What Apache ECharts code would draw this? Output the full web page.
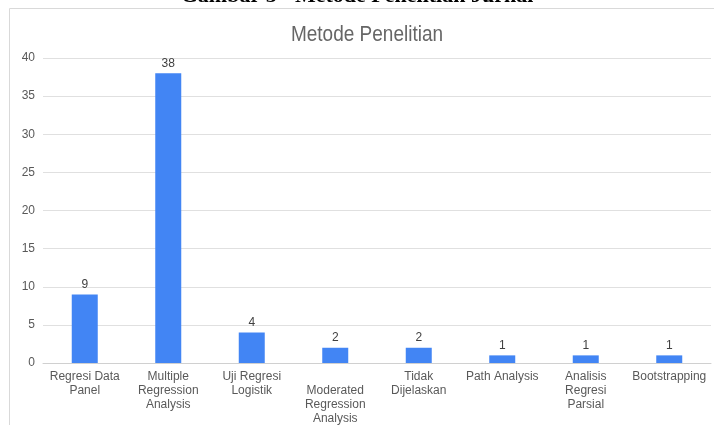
<!DOCTYPE html>
<html>
<head>
<meta charset="utf-8">
<script src="https://cdn.jsdelivr.net/npm/echarts@6/dist/echarts.min.js"></script>
<style>
html,body{margin:0;padding:0;background:#fff;}
#c{width:714px;height:425px;}
</style>
</head>
<body>
<div id="c"></div>
<script>
const categories = [
  "Regresi Data\nPanel",
  "Multiple\nRegression\nAnalysis",
  "Uji Regresi\nLogistik",
  "\nModerated\nRegression\nAnalysis",
  "Tidak\nDijelaskan",
  "Path Analysis",
  "Analisis\nRegresi\nParsial",
  "Bootstrapping"
];
const values = [9, 38, 4, 2, 2, 1, 1, 1];
const yTicks = [0, 5, 10, 15, 20, 25, 30, 35, 40];

const FONT = 'Liberation Sans, Arial, sans-serif';
const chart = echarts.init(document.getElementById('c'));
chart.setOption({
  animation: false,
  graphic: [
    {
      type: 'rect',
      shape: { x: 9.5, y: 8.5, width: 720, height: 440 },
      style: { fill: 'none', stroke: '#d9d9d9', lineWidth: 1 },
      z: -1
    },
    {
      type: 'text',
      x: 357,
      y: 7,
      style: {
        text: 'Gambar 5 - Metode Penelitian Jurnal',
        font: 'bold 22px "Liberation Serif", "Times New Roman", serif',
        fill: '#000',
        align: 'center',
        verticalAlign: 'bottom'
      }
    },
    {
      type: 'text',
      x: 367,
      y: 35,
      scaleY: 1.12,
      style: {
        text: 'Metode Penelitian',
        font: '19px ' + FONT,
        fill: '#666666',
        align: 'center',
        verticalAlign: 'middle'
      }
    }
  ],
  grid: { left: 43, right: 3, top: 58, bottom: 62, outerBoundsMode: 'none', containLabel: false },
  xAxis: {
    type: 'category',
    data: categories,
    axisTick: { show: false },
    axisLine: { lineStyle: { color: '#d0d0d0' } },
    axisLabel: {
      interval: 0,
      margin: 7,
      color: '#595959',
      fontFamily: FONT,
      fontSize: 12,
      lineHeight: 14
    }
  },
  yAxis: {
    type: 'value',
    min: yTicks[0],
    max: yTicks[yTicks.length - 1],
    interval: 5,
    axisLine: { show: false },
    axisTick: { show: false },
    splitLine: { lineStyle: { color: '#e0e0e0' } },
    axisLabel: {
      margin: 8,
      color: '#595959',
      fontFamily: FONT,
      fontSize: 12
    }
  },
  series: [{
    type: 'bar',
    data: values,
    barWidth: 26,
    itemStyle: { color: '#4285F4' },
    label: {
      show: true,
      position: 'top',
      distance: 4,
      color: '#404040',
      fontFamily: FONT,
      fontSize: 12
    }
  }]
});
</script>
</body>
</html>
